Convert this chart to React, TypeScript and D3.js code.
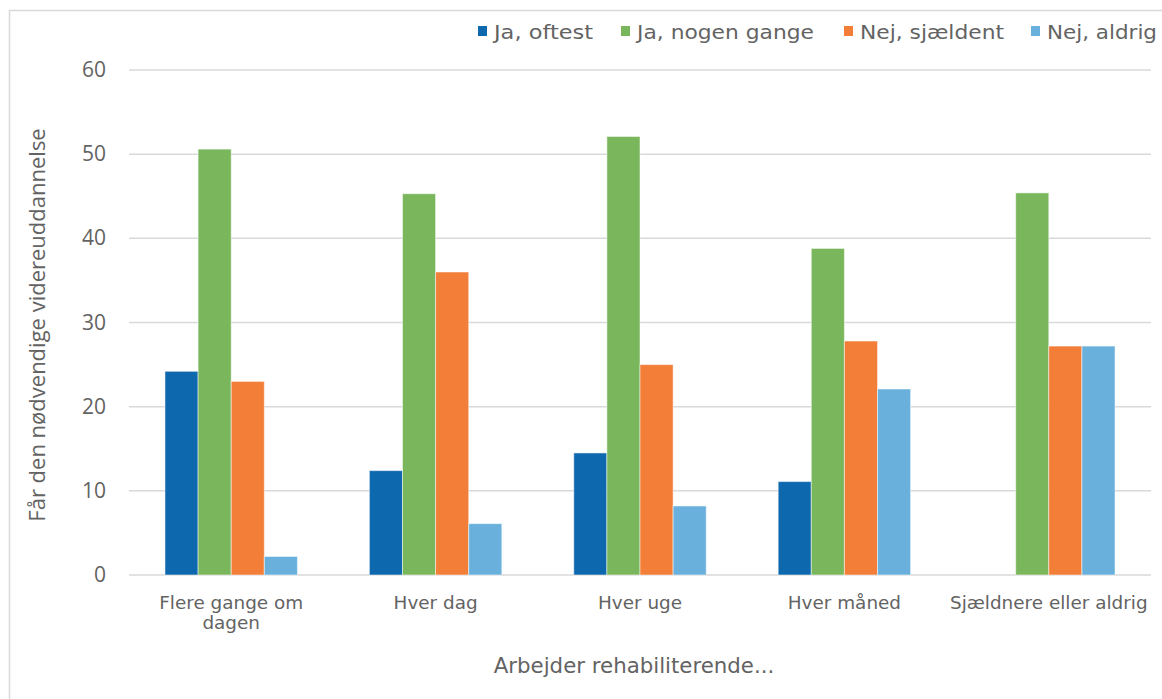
import React from 'react';
import * as d3 from 'd3';

// categories on the x axis (second one wraps)
const categories: string[][] = [
  ['Flere gange om', 'dagen'],
  ['Hver dag'],
  ['Hver uge'],
  ['Hver måned'],
  ['Sjældnere eller aldrig'],
];

const seriesNames = ['Ja, oftest', 'Ja, nogen gange', 'Nej, sjældent', 'Nej, aldrig'];
const seriesColors = ['#0e68ad', '#7ab65c', '#f27e38', '#69b1dc'];

// values per series, one per category
const jaOftest = [24.2, 12.4, 14.5, 11.1, 0];
const jaNogenGange = [50.6, 45.3, 52.1, 38.8, 45.4];
const nejSjaeldent = [23.0, 36.0, 25.0, 27.8, 27.2];
const nejAldrig = [2.2, 6.1, 8.2, 22.1, 27.2];

const yTicks = [0, 10, 20, 30, 40, 50, 60];

const legendLengths = [99, 177, 144, 110];
const legendX = [478, 621, 844, 1031];

const W = 1162;
const H = 699;
const left = 129;
const right = 1151;
const top = 70;
const bottom = 575;

const App: React.FC = () => {
  const series = [jaOftest, jaNogenGange, nejSjaeldent, nejAldrig];
  const catKeys = categories.map((c) => c.join(' '));

  const x0 = d3.scaleBand<string>()
    .domain(catKeys)
    .range([left, right])
    .paddingInner(0.352)
    .paddingOuter(0.176);

  const x1 = d3.scaleBand<string>()
    .domain(seriesNames)
    .range([0, x0.bandwidth()]);

  const y = d3.scaleLinear().domain([0, 60]).range([bottom, top]);

  const font = 'DejaVu Sans, Verdana, sans-serif';
  const tickFont = '"Open Sans", Calibri, sans-serif';
  const textColor = '#636363';

  return (
    <svg width={W} height={H} style={{ position: 'absolute', left: 0, top: 0, background: '#fff' }}>
      <rect x={9.5} y={10.5} width={W + 20} height={H + 20} fill="#fff" stroke="#d9d9d9" strokeWidth={1.5} />

      {/* gridlines */}
      {yTicks.map((t) => (
        <line key={t} x1={left} x2={right} y1={y(t)} y2={y(t)} stroke="#d9d9d9" strokeWidth={1.5} />
      ))}

      {/* y tick labels */}
      {yTicks.map((t) => (
        <text key={t} x={106} y={y(t) + 7} textAnchor="end" fontFamily={tickFont} fontSize={21} fill={textColor}>
          {t}
        </text>
      ))}

      {/* bars */}
      {series.map((vals, si) =>
        vals.map((v, ci) =>
          v > 0 ? (
            <rect
              key={`${si}-${ci}`}
              x={(x0(catKeys[ci]) ?? 0) + (x1(seriesNames[si]) ?? 0)}
              y={y(v)}
              width={x1.bandwidth()}
              height={y(0) - y(v)}
              fill={seriesColors[si]}
              stroke="#ffffff"
              strokeOpacity={0.5}
              strokeWidth={1}
            />
          ) : null
        )
      )}

      {/* x category labels */}
      {categories.map((lines, ci) => (
        <text
          key={ci}
          x={(x0(catKeys[ci]) ?? 0) + x0.bandwidth() / 2}
          y={609}
          textAnchor="middle"
          fontFamily={font}
          fontSize={18.4}
          fill={textColor}
        >
          {lines.map((l, li) => (
            <tspan key={li} x={(x0(catKeys[ci]) ?? 0) + x0.bandwidth() / 2} dy={li === 0 ? 0 : 20}>
              {l}
            </tspan>
          ))}
        </text>
      ))}

      {/* axis titles */}
      <text x={634} y={673} textAnchor="middle" fontFamily={font} fontSize={21.3} fill={textColor}>
        Arbejder rehabiliterende...
      </text>
      <text
        transform="translate(45,325) rotate(-90)"
        textAnchor="middle"
        fontFamily={tickFont}
        fontSize={22}
        fill={textColor}
      >
        Får den nødvendige videreuddannelse
      </text>

      {/* legend */}
      {seriesNames.map((name, i) => (
        <g key={name}>
          <rect x={legendX[i]} y={26} width={9} height={10} fill={seriesColors[i]} />
          <text
            x={legendX[i] + 16}
            y={39}
            fontFamily={font}
            fontSize={19}
            fill={textColor}
            textLength={legendLengths[i]}
            lengthAdjust="spacingAndGlyphs"
          >
            {name}
          </text>
        </g>
      ))}
    </svg>
  );
};

export default App;
